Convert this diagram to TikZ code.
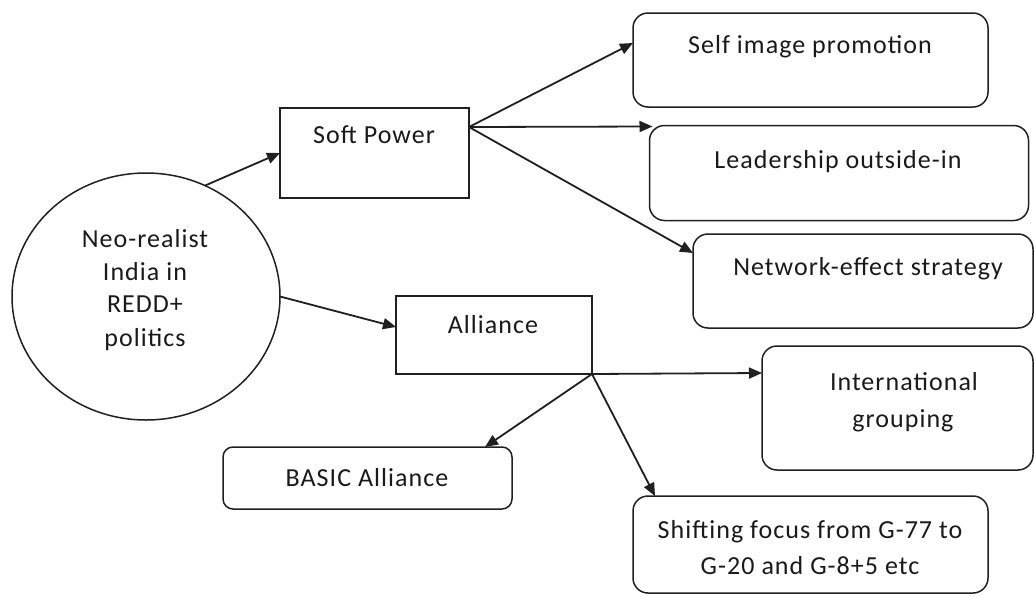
\documentclass[tikz,border=0pt]{standalone}
\usepackage{fontspec}
\setmainfont[LetterSpace=4]{Carlito}
\usetikzlibrary{shapes.geometric,arrows.meta,calc}
\definecolor{linegray}{HTML}{202020}
\definecolor{textgray}{HTML}{1A1A1A}
\begin{document}
\begin{tikzpicture}[x=1pt,y=-1pt,
  every node/.style={inner sep=0pt, outer sep=0pt},
  sbox/.style={draw=linegray, line width=1.5pt, rectangle},
  rbox/.style={sbox, rounded corners=15pt},
  txt/.style={font=\fontsize{26}{30}\selectfont, text=textgray, anchor=base},
  conn/.style={draw=linegray, line width=1.8pt, -{Triangle[length=13pt,width=11pt]}}]
\useasboundingbox (0,0) rectangle (1034,595);
\fill[white] (0,0) rectangle (1034,595);

% shapes
\node[draw=linegray, line width=1.5pt, ellipse, minimum width=268pt, minimum height=247pt] (circ) at (146,296.5) {};
\node[sbox, minimum width=189pt, minimum height=90pt] (sp) at (374.5,153) {};
\node[rbox, minimum width=355pt, minimum height=94pt] (self) at (810.5,60) {};
\node[rbox, minimum width=379pt, minimum height=95pt] (lead) at (839,173) {};
\node[rbox, minimum width=340pt, minimum height=94pt] (net) at (863,281) {};
\node[sbox, minimum width=196pt, minimum height=78pt] (al) at (494,335) {};
\node[rbox, minimum width=271pt, minimum height=124pt] (intl) at (897.5,408) {};
\node[sbox, rounded corners=10pt, minimum width=289pt, minimum height=62pt] (basic) at (367.5,478) {};
\node[rbox, minimum width=355pt, minimum height=97pt] (shift) at (810.5,544.5) {};

% texts
\node[txt] (c1) at (145,247) {Neo-realist};
\node[txt] (c2) at (145,280) {India in};
\node[txt] (c3) at (145,312) {REDD+};
\node[txt] (c4) at (145,346) {politics};
\node[txt] (tsp) at (374,143) {Soft Power};
\node[txt] (tself) at (810,53) {Self image promotion};
\node[txt] (tlead) at (838,168) {Leadership outside-in};
\node[txt] (tnet) at (868,275) {Network-effect strategy};
\node[txt] (tal) at (493,333) {Alliance};
\node[txt] (ti1) at (904,390) {International};
\node[txt] (ti2) at (903,427) {grouping};
\node[txt] (tbasic) at (367,486) {BASIC Alliance};
\node[txt] (ts1) at (810,538) {Shifting focus from G-77 to};
\node[txt] (ts2) at (810,574) {G-20 and G-8+5 etc};

% connectors
\draw[conn] (circ.62) -- (sp.west);
\draw[conn] (circ.east) -- ($(al.north west)+(0,31)$);
\coordinate (spo) at ($(sp.north east)+(0,19)$);
\draw[conn] (spo) -- ($(self.north west)+(0,30)$);
\draw[conn] (spo) -- ($(lead.north west)+(3,1)$);
\draw[conn] (spo) -- ($(net.north west)+(0,19)$);
\draw[conn] (al.south east) -- ($(intl.north west)+(0,27)$);
\draw[conn] (al.south east) -- ($(basic.north east)+(-27,0)$);
\draw[conn] (al.south east) -- ($(shift.north west)+(22,0)$);
\end{tikzpicture}
\end{document}
